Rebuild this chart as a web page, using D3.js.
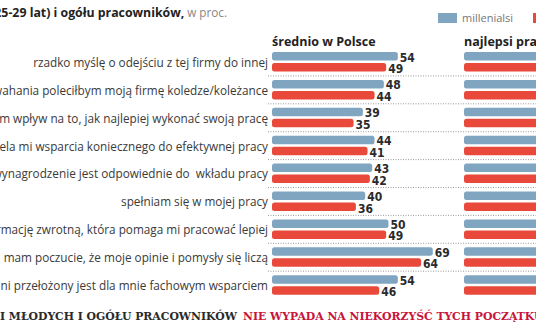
<!DOCTYPE html>
<html><head><meta charset="utf-8">
<script src="https://cdn.jsdelivr.net/npm/d3@7"></script>
<style>
html,body{margin:0;padding:0;background:#fff;overflow:hidden;}
svg{display:block;}
</style></head>
<body>
<svg id="chart" width="536" height="332"></svg>
<script>
const categories = [
  "rzadko myślę o odejściu z tej firmy do innej",
  "bez wahania poleciłbym moją firmę koledze/koleżance",
  "mam wpływ na to, jak najlepiej wykonać swoją pracę",
  "firma udziela mi wsparcia koniecznego do efektywnej pracy",
  "moje wynagrodzenie jest odpowiednie do  wkładu pracy",
  "spełniam się w mojej pracy",
  "otrzymuję informację zwrotną, która pomaga mi pracować lepiej",
  "mam poczucie, że moje opinie i pomysły się liczą",
  "mój bezpośredni przełożony jest dla mnie fachowym wsparciem"
];
const seriesNames = ["millenialsi", "ogół pracowników"];
const panels = ["średnio w Polsce", "najlepsi pracodawcy"];
const millenialsPoland = [54, 48, 39, 44, 43, 40, 50, 69, 54];
const allPoland        = [49, 44, 35, 41, 42, 36, 49, 64, 46];
// right panel is cut off in the reference; estimated values
const millenialsBest   = [72, 75, 68, 72, 66, 70, 74, 84, 76];
const allBest          = [70, 73, 64, 69, 63, 66, 71, 80, 72];

const colors = {blue: "#7fa5c1", red: "#e8493b"};
const labelFont = "'Open Sans', sans-serif";

const svg = d3.select("#chart");

function fitSize(text, family, weight, target, base) {
  const t = svg.append("text").attr("font-family", family).attr("font-weight", weight)
    .attr("font-size", base).style("white-space", "pre").text(text);
  const w = t.node().getComputedTextLength();
  t.remove();
  return base * target / w;
}

// heading (cut off at left in reference)
const headSize = fitSize("5-29 lat) i ogółu pracowników,", labelFont, "bold", 183, 12);
const head = svg.append("text").attr("y", 17).attr("font-family", labelFont).attr("font-size", headSize);
head.append("tspan").attr("font-weight", "bold").attr("fill", "#222")
  .text("Postawy młodych (25-29 lat) i ogółu pracowników,");
head.append("tspan").attr("fill", "#888").attr("font-size", headSize * 0.95).text(" w proc.");
const hw = head.node().getComputedTextLength();
head.attr("x", 227 - hw);

// legend
const legend = svg.append("g");
legend.append("rect").attr("x", 438).attr("y", 13).attr("width", 19).attr("height", 10).attr("fill", colors.blue);
legend.append("text").attr("x", 462).attr("y", 22).attr("font-family", labelFont)
  .attr("font-size", 11).attr("fill", "#777").text(seriesNames[0]);
legend.append("rect").attr("x", 533).attr("y", 13).attr("width", 19).attr("height", 10).attr("fill", colors.red);
legend.append("text").attr("x", 557).attr("y", 22).attr("font-family", labelFont)
  .attr("font-size", 11).attr("fill", "#777").text(seriesNames[1]);

const x = d3.scaleLinear().domain([0, 100]).range([0, 233]);
const y = d3.scaleBand().domain(d3.range(categories.length)).range([52, 52 + 27.9 * categories.length]).padding(0);
const barH = 8.5;

// separators
const sepG = svg.append("g");
for (let i = 1; i < categories.length; i++) {
  const yy = y(i) - 4;
  sepG.append("line").attr("x1", 268).attr("x2", 536).attr("y1", yy).attr("y2", yy)
    .attr("stroke", "#9a9a9a").attr("stroke-width", 1).attr("stroke-dasharray", "1,1.5");
}

// category labels
const labSize = fitSize(categories[0], labelFont, "normal", 235, 11);
svg.append("g").selectAll("text").data(categories).join("text")
  .attr("x", 268).attr("y", (d, i) => y(i) + 14.8)
  .attr("text-anchor", "end")
  .attr("font-family", labelFont).attr("font-size", labSize)
  .attr("fill", "#3a3a3a").style("white-space", "pre")
  .text(d => d);

function drawPanel(x0, title, blueVals, redVals) {
  const g = svg.append("g").attr("transform", `translate(${x0},0)`);
  g.append("text").attr("x", 0).attr("y", 46).attr("font-family", labelFont)
    .attr("font-weight", "bold").attr("font-size", 12.5).attr("fill", "#222").text(title);
  const rows = categories.map((c, i) => ({i, b: blueVals[i], r: redVals[i]}));
  g.selectAll("rect.b").data(rows).join("rect").attr("class", "b")
    .attr("x", 0).attr("y", d => y(d.i)).attr("width", d => x(d.b)).attr("height", barH)
    .attr("rx", 2.5).attr("fill", colors.blue);
  g.selectAll("rect.r").data(rows).join("rect").attr("class", "r")
    .attr("x", 0).attr("y", d => y(d.i) + 11).attr("width", d => x(d.r)).attr("height", barH)
    .attr("rx", 2.5).attr("fill", colors.red);
  const vf = g.append("g").attr("font-family", "'DejaVu Sans Condensed', 'DejaVu Sans', sans-serif")
    .attr("font-weight", "bold").attr("font-size", 12).attr("fill", "#2a2a2a");
  vf.selectAll("text.b").data(rows).join("text").attr("class", "b")
    .attr("x", d => x(d.b) + 2).attr("y", d => y(d.i) + 9.5).text(d => d.b);
  vf.selectAll("text.r").data(rows).join("text").attr("class", "r")
    .attr("x", d => x(d.r) + 2).attr("y", d => y(d.i) + 21).text(d => d.r);
}
drawPanel(272, panels[0], millenialsPoland, allPoland);
drawPanel(464, panels[1], millenialsBest, allBest);

// bottom headline
const footFont = "'DejaVu Serif', serif";
const footSize = fitSize("I MŁODYCH I OGÓŁU PRACOWNIKÓW", footFont, "bold", 237, 11.5);
const foot = svg.append("text").attr("y", 320)
  .attr("font-family", footFont).attr("font-weight", "bold").attr("font-size", footSize);
foot.append("tspan").attr("x", 0).attr("fill", "#2a2a2a").text("I MŁODYCH I OGÓŁU PRACOWNIKÓW");
foot.append("tspan").attr("x", 243).attr("fill", "#c8143c").text("NIE WYPADA NA NIEKORZYŚĆ TYCH POCZĄTKUJĄCYCH");
</script>
</body></html>
